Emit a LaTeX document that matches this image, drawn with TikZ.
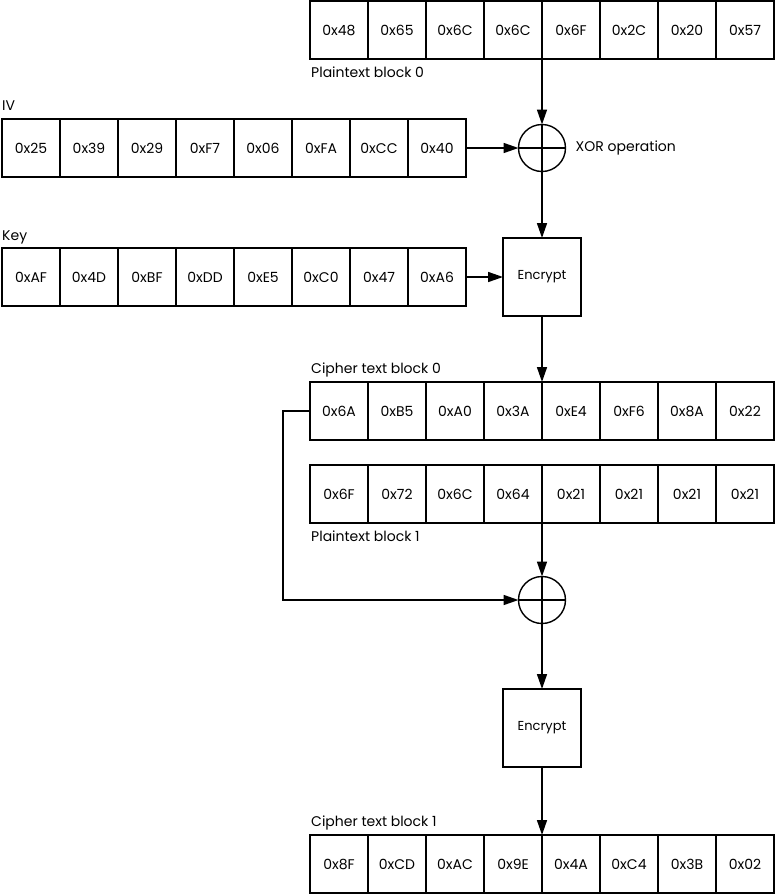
\documentclass[tikz,border=0pt]{standalone}
\usepackage{fontspec}
\setmainfont{Poppins}
\usetikzlibrary{arrows.meta,positioning}

\begin{document}
\begin{tikzpicture}[
    x=1pt,y=-1pt,
    cell/.style={draw,line width=1.6pt,minimum width=58pt,minimum height=58pt,inner sep=0pt,outer sep=0pt,font=\fontsize{14}{16}\selectfont},
    lbl/.style={anchor=base west,inner sep=0pt,font=\fontsize{14}{16}\selectfont},
    enc/.style={draw,line width=1.6pt,minimum size=78pt,inner sep=0pt,outer sep=0pt,font=\fontsize{13}{15}\selectfont},
    xor/.style={draw,circle,line width=1.4pt,minimum size=47pt,inner sep=0pt,outer sep=0pt,
      path picture={\draw[line width=1.4pt] (path picture bounding box.north) -- (path picture bounding box.south)
        (path picture bounding box.west) -- (path picture bounding box.east);}},
    flow/.style={line width=1.6pt,-{Triangle[length=15pt,width=10pt]}}
  ]
    \useasboundingbox (0,0) rectangle (775,895);
    % plaintext block 0
    \foreach \v [count=\i] in {0x48,0x65,0x6C,0x6C,0x6F,0x2C,0x20,0x57}
      \node[cell] (pa\i) at ({281+58*\i},30) {\v};
    \node[lbl] (palbl) at (311,77) {Plaintext block 0};
    % IV
    \node[lbl] (ivlbl) at (2,110) {IV};
    \foreach \v [count=\i] in {0x25,0x39,0x29,0xF7,0x06,0xFA,0xCC,0x40}
      \node[cell] (iv\i) at ({-27+58*\i},148) {\v};
    \node[xor] (xa) at (542,148) {};
    \node[anchor=west,inner sep=0pt,right=10pt of xa,font=\fontsize{14}{16}\selectfont] (xalbl) {XOR operation};
    % key
    \node[lbl] (keylbl) at (2,240) {Key};
    \foreach \v [count=\i] in {0xAF,0x4D,0xBF,0xDD,0xE5,0xC0,0x47,0xA6}
      \node[cell] (k\i) at ({-27+58*\i},277) {\v};
    \node[enc] (enca) at (542,277) {Encrypt};
    % cipher text block 0
    \node[lbl] (calbl) at (311,373) {Cipher text block 0};
    \foreach \v [count=\i] in {0x6A,0xB5,0xA0,0x3A,0xE4,0xF6,0x8A,0x22}
      \node[cell] (ca\i) at ({281+58*\i},411) {\v};
    % plaintext block 1
    \foreach \v [count=\i] in {0x6F,0x72,0x6C,0x64,0x21,0x21,0x21,0x21}
      \node[cell] (pb\i) at ({281+58*\i},494) {\v};
    \node[lbl] (pblbl) at (311,541) {Plaintext block 1};
    \node[xor] (xb) at (542,600) {};
    \node[enc] (encb) at (542,728) {Encrypt};
    % cipher text block 1
    \node[lbl] (cblbl) at (311,826) {Cipher text block 1};
    \foreach \v [count=\i] in {0x8F,0xCD,0xAC,0x9E,0x4A,0xC4,0x3B,0x02}
      \node[cell] (cb\i) at ({281+58*\i},864) {\v};
    % connectors
    \draw[flow] (pa4.south east) -- (xa.north);
    \draw[flow] (iv8.east) -- (xa.west);
    \draw[flow] (xa.south) -- (enca.north);
    \draw[flow] (k8.east) -- (enca.west);
    \draw[flow] (enca.south) -- (ca4.north east);
    \draw[flow] (pb4.south east) -- (xb.north);
    \draw[flow] (ca1.west) -- ++(-27,0) |- (xb.west);
    \draw[flow] (xb.south) -- (encb.north);
    \draw[flow] (encb.south) -- (cb4.north east);
  \end{tikzpicture}
\end{document}
